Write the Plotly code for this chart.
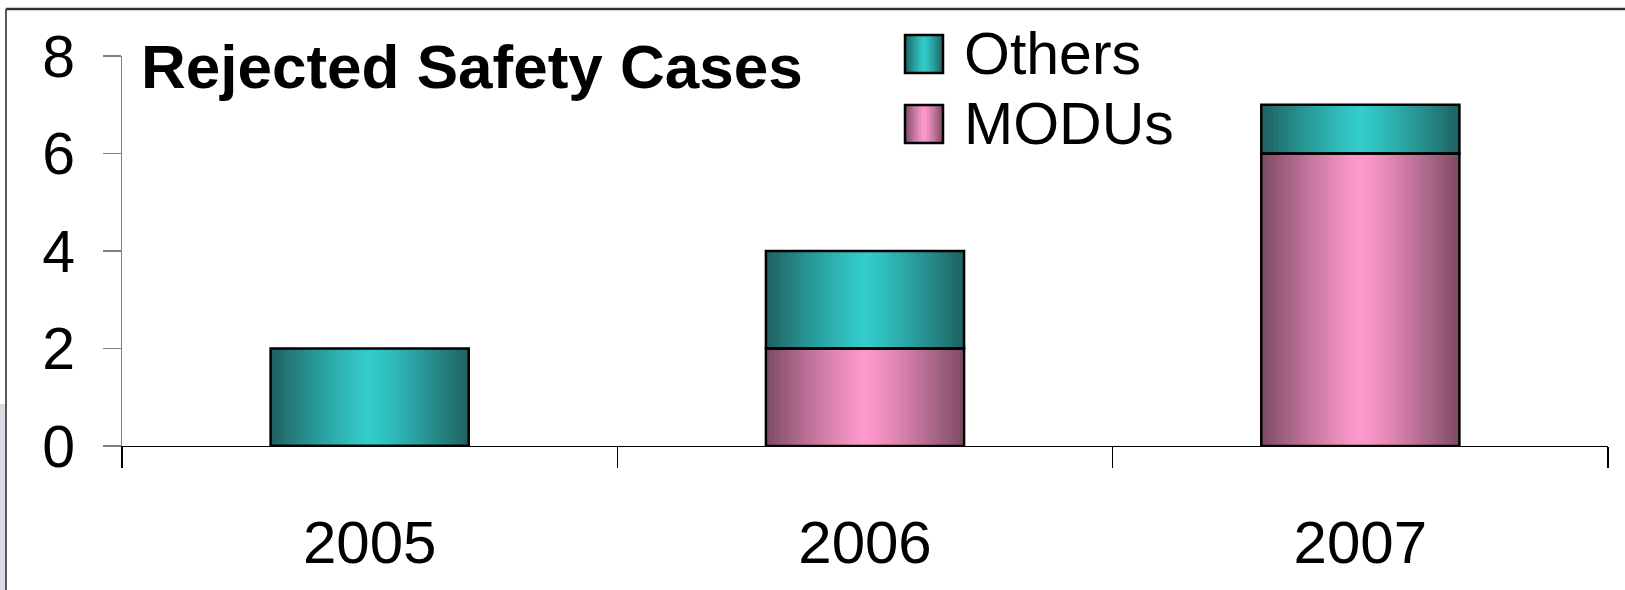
import plotly.graph_objects as go

# ---- data ----
years = ["2005", "2006", "2007"]
modus = [0, 2, 6]
others = [2, 2, 1]
series_names = ["Others", "MODUs"]
y_ticks = [0, 2, 4, 6, 8]
title_text = "Rejected Safety Cases"

# ---- style ----
FONT = "Liberation Sans, Arial, sans-serif"
OTHERS_EDGE = (0x1E, 0x60, 0x60)
OTHERS_MID = (0x33, 0xCC, 0xCC)
MODUS_EDGE = (0x7C, 0x4A, 0x64)
MODUS_MID = (0xFF, 0x99, 0xCC)
BAR_W = 0.4
N_STRIPES = 48

W_PX, H_PX = 1625, 590
L, R, T, B = 122, 1608, 56, 446


def px2x(px):
    return (px - L) / (R - L)


def py2y(py):
    return (B - py) / (B - T)


def grad(edge, mid, u):
    t = abs(u - 0.5) * 2
    t = t ** 1.2
    c = [round(m * (1 - t) + e * t) for e, m in zip(edge, mid)]
    return "rgb(%d,%d,%d)" % tuple(c)


fig = go.Figure()

step = BAR_W / N_STRIPES
base_others = modus
for vals, base, edge, mid in [
    (modus, [0] * len(modus), MODUS_EDGE, MODUS_MID),
    (others, base_others, OTHERS_EDGE, OTHERS_MID),
]:
    for i in range(N_STRIPES):
        u = (i + 0.5) / N_STRIPES
        off = -BAR_W / 2 + i * step
        wdt = min(step * 1.8, BAR_W - i * step)
        fig.add_trace(go.Bar(
            x=years, y=vals, base=base, width=wdt, offset=off,
            marker=dict(color=grad(edge, mid, u), line=dict(width=0)),
            showlegend=False, hoverinfo="skip",
        ))

# outlines
for vals, base in [(modus, [0] * len(modus)), (others, base_others)]:
    fig.add_trace(go.Bar(
        x=years, y=vals, base=base, width=BAR_W, offset=-BAR_W / 2,
        marker=dict(color="rgba(0,0,0,0)", line=dict(color="black", width=2.5)),
        showlegend=False, hoverinfo="skip",
    ))

shapes = []
annotations = []

# frame artefacts of the original slide
shapes.append(dict(type="rect", xref="paper", yref="paper",
                   x0=px2x(0), x1=px2x(5.5), y0=py2y(W_PX), y1=py2y(404),
                   fillcolor="#D9DCE3", line=dict(width=0), layer="below"))
shapes.append(dict(type="line", xref="paper", yref="paper",
                   x0=px2x(6), x1=px2x(6), y0=py2y(9), y1=py2y(600),
                   line=dict(color="#222222", width=1.5)))
shapes.append(dict(type="line", xref="paper", yref="paper",
                   x0=px2x(6), x1=px2x(1640), y0=py2y(9), y1=py2y(9),
                   line=dict(color="#333333", width=2.5)))

# manual legend
legend_items = [(series_names[0], OTHERS_EDGE, OTHERS_MID, 54),
                (series_names[1], MODUS_EDGE, MODUS_MID, 124)]
sq = 38
sx0 = 905
n_leg = 14
for name, edge, mid, cy in legend_items:
    for i in range(n_leg):
        u = (i + 0.5) / n_leg
        x0 = sx0 + i * sq / n_leg
        x1 = min(sx0 + (i + 1.6) * sq / n_leg, sx0 + sq)
        shapes.append(dict(type="rect", xref="paper", yref="paper",
                           x0=px2x(x0), x1=px2x(x1),
                           y0=py2y(cy + sq / 2), y1=py2y(cy - sq / 2),
                           fillcolor=grad(edge, mid, u), line=dict(width=0)))
    shapes.append(dict(type="rect", xref="paper", yref="paper",
                       x0=px2x(sx0), x1=px2x(sx0 + sq),
                       y0=py2y(cy + sq / 2), y1=py2y(cy - sq / 2),
                       fillcolor="rgba(0,0,0,0)", line=dict(color="black", width=2.5)))
    annotations.append(dict(text=name, xref="paper", yref="paper",
                            x=px2x(962), y=py2y(cy), xanchor="left", yanchor="middle",
                            showarrow=False, font=dict(family=FONT, size=59, color="black")))

annotations.append(dict(text="<b>%s</b>" % title_text, xref="paper", yref="paper",
                        x=px2x(139), y=py2y(66), xanchor="left", yanchor="middle",
                        showarrow=False, font=dict(family=FONT, size=62, color="black")))

fig.update_layout(
    width=W_PX, height=H_PX,
    margin=dict(l=L, r=W_PX - R, t=T, b=H_PX - B, autoexpand=False),
    paper_bgcolor="white", plot_bgcolor="white",
    barmode="overlay", bargap=0.6,
    showlegend=False, hovermode=False,
    shapes=shapes, annotations=annotations,
    xaxis=dict(type="category", range=[-0.5, 2.5], showline=True, linecolor="black",
               linewidth=1.2, ticks="outside", tickson="boundaries", ticklen=21,
               tickcolor="black", tickwidth=1.2, showgrid=False, zeroline=False,
               tickfont=dict(family=FONT, size=60, color="black"),
               ticklabelstandoff=44),
    yaxis=dict(range=[0, 8], tickvals=y_ticks, showline=True, linecolor="#7F7F7F",
               linewidth=1.2, ticks="outside", ticklen=18, tickcolor="#7F7F7F",
               tickwidth=1.2, showgrid=False, zeroline=False,
               tickfont=dict(family=FONT, size=59, color="black"),
               ticklabelstandoff=16),
)

fig.write_html("out.html", config={"displayModeBar": False, "staticPlot": True},
               post_script="document.body.style.margin='0';")
